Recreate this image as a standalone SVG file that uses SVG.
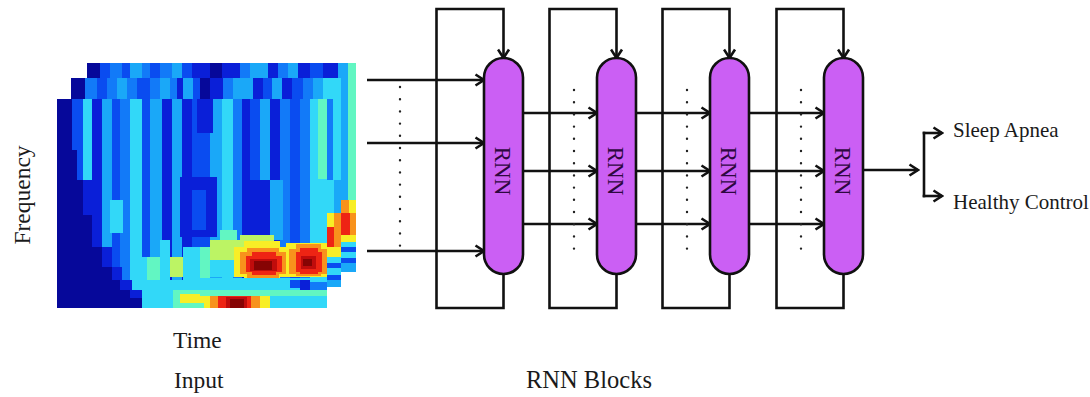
<svg xmlns="http://www.w3.org/2000/svg" width="1090" height="397" viewBox="0 0 1090 397">
<style>
.c0{fill:#06089a}.c1{fill:#0a1fd8}.c2{fill:#0a4cf0}.c3{fill:#127af8}.c4{fill:#1aa8f8}.c5{fill:#32d8f8}.c6{fill:#62f6c2}.c7{fill:#bcf464}.c8{fill:#f8ee26}.c9{fill:#f8921c}.c10{fill:#ee2414}.c11{fill:#c00c0c}.c12{fill:#860404}
.ln{fill:none;stroke:#111;stroke-width:2.6}
.arr{marker-end:url(#ah)}
.dots{fill:none;stroke:#222;stroke-width:2.4;stroke-linecap:round;stroke-dasharray:0 12.2}
.node rect{fill:#cb5ff4;stroke:#111;stroke-width:2.6}
.nt{font-family:"Liberation Serif","Times New Roman",serif;font-size:23px;fill:#2e0840}
.lbl{font-family:"Liberation Serif","Times New Roman",serif;font-size:23.5px;fill:#1a1a1a}
.lbb{font-family:"Liberation Serif","Times New Roman",serif;font-size:24.5px;fill:#1a1a1a}
.lbs{font-family:"Liberation Serif","Times New Roman",serif;font-size:21px;fill:#1a1a1a}
</style>
<defs>
<marker id="ah" viewBox="0 0 12 14" refX="10" refY="7" markerWidth="12" markerHeight="14" markerUnits="userSpaceOnUse" orient="auto">
<path d="M1.5,1.5 L10,7 L1.5,12.5" fill="none" stroke="#111" stroke-width="2.6"/>
</marker>
</defs>
<rect width="1090" height="397" fill="#fff"/>

<g id="spectrogram" shape-rendering="crispEdges">
<!-- back layer -->
<rect class="c3" x="87" y="63" width="269" height="209"/>
<rect class="c0" x="87" y="63" width="13" height="15"/>
<rect class="c2" x="100" y="63" width="10" height="15"/>
<rect class="c3" x="110" y="63" width="12" height="15"/>
<rect class="c2" x="122" y="63" width="8" height="15"/>
<rect class="c4" x="130" y="63" width="12" height="15"/>
<rect class="c3" x="142" y="63" width="8" height="15"/>
<rect class="c2" x="150" y="63" width="10" height="15"/>
<rect class="c3" x="160" y="63" width="12" height="15"/>
<rect class="c4" x="172" y="63" width="10" height="15"/>
<rect class="c2" x="182" y="63" width="10" height="15"/>
<rect class="c1" x="192" y="63" width="18" height="15"/>
<rect class="c0" x="210" y="63" width="12" height="15"/>
<rect class="c1" x="222" y="63" width="18" height="15"/>
<rect class="c3" x="240" y="63" width="10" height="15"/>
<rect class="c4" x="250" y="63" width="18" height="15"/>
<rect class="c1" x="268" y="63" width="10" height="15"/>
<rect class="c3" x="278" y="63" width="10" height="15"/>
<rect class="c4" x="288" y="63" width="10" height="15"/>
<rect class="c1" x="298" y="63" width="12" height="15"/>
<rect class="c2" x="310" y="63" width="13" height="15"/>
<rect class="c1" x="323" y="63" width="15" height="15"/>
<rect class="c4" x="338" y="63" width="10" height="137"/>
<rect class="c6" x="348" y="63" width="8" height="137"/>
<rect class="c9" x="341" y="200" width="8" height="13"/>
<rect class="c8" x="349" y="200" width="7" height="13"/>
<rect class="c10" x="341" y="213" width="9" height="22"/>
<rect class="c9" x="350" y="213" width="6" height="22"/>
<rect class="c8" x="341" y="235" width="15" height="7"/>
<rect class="c5" x="341" y="242" width="15" height="5"/>
<rect class="c2" x="341" y="247" width="15" height="5"/>
<rect class="c5" x="341" y="252" width="15" height="6"/>
<rect class="c2" x="341" y="258" width="15" height="5"/>
<rect class="c4" x="341" y="263" width="15" height="9"/>
<!-- middle layer -->
<rect class="c3" x="71" y="78" width="270" height="209"/>
<rect class="c0" x="71" y="78" width="14" height="21"/>
<rect class="c3" x="85" y="78" width="12" height="21"/>
<rect class="c2" x="97" y="78" width="10" height="21"/>
<rect class="c3" x="107" y="78" width="10" height="21"/>
<rect class="c4" x="117" y="78" width="10" height="21"/>
<rect class="c3" x="127" y="78" width="10" height="21"/>
<rect class="c2" x="137" y="78" width="13" height="21"/>
<rect class="c3" x="150" y="78" width="10" height="21"/>
<rect class="c4" x="160" y="78" width="10" height="21"/>
<rect class="c3" x="170" y="78" width="7" height="21"/>
<rect class="c1" x="177" y="78" width="6" height="21"/>
<rect class="c4" x="183" y="78" width="10" height="21"/>
<rect class="c2" x="193" y="78" width="7" height="21"/>
<rect class="c0" x="200" y="78" width="10" height="21"/>
<rect class="c1" x="210" y="78" width="13" height="21"/>
<rect class="c3" x="223" y="78" width="10" height="21"/>
<rect class="c4" x="233" y="78" width="20" height="21"/>
<rect class="c1" x="253" y="78" width="10" height="21"/>
<rect class="c2" x="263" y="78" width="9" height="21"/>
<rect class="c4" x="272" y="78" width="10" height="21"/>
<rect class="c1" x="282" y="78" width="10" height="21"/>
<rect class="c2" x="292" y="78" width="11" height="21"/>
<rect class="c3" x="303" y="78" width="10" height="21"/>
<rect class="c4" x="313" y="78" width="10" height="21"/>
<rect class="c5" x="323" y="78" width="18" height="21"/>
<rect class="c3" x="327" y="99" width="6" height="81"/>
<rect class="c5" x="333" y="99" width="8" height="81"/>
<rect class="c5" x="327" y="180" width="7" height="33"/>
<rect class="c4" x="334" y="180" width="7" height="33"/>
<rect class="c8" x="327" y="213" width="7" height="14"/>
<rect class="c9" x="334" y="213" width="7" height="14"/>
<rect class="c10" x="327" y="227" width="7" height="20"/>
<rect class="c9" x="334" y="227" width="7" height="20"/>
<rect class="c8" x="327" y="247" width="14" height="10"/>
<rect class="c5" x="327" y="257" width="14" height="6"/>
<rect class="c2" x="327" y="263" width="14" height="5"/>
<rect class="c5" x="327" y="268" width="14" height="7"/>
<rect class="c2" x="327" y="275" width="14" height="5"/>
<rect class="c4" x="327" y="280" width="14" height="7"/>
<!-- front layer -->
<rect class="c3" x="57" y="99" width="270" height="209"/>
<rect class="c0" x="57" y="99" width="15" height="209"/>
<rect class="c2" x="72" y="99" width="11" height="209"/>
<rect class="c5" x="83" y="99" width="9" height="209"/>
<rect class="c1" x="92" y="99" width="10" height="209"/>
<rect class="c4" x="102" y="99" width="10" height="209"/>
<rect class="c2" x="112" y="99" width="8" height="209"/>
<rect class="c3" x="120" y="99" width="10" height="209"/>
<rect class="c5" x="130" y="99" width="12" height="209"/>
<rect class="c2" x="142" y="99" width="8" height="209"/>
<rect class="c4" x="150" y="99" width="12" height="209"/>
<rect class="c1" x="162" y="99" width="10" height="209"/>
<rect class="c4" x="172" y="99" width="10" height="209"/>
<rect class="c1" x="182" y="99" width="10" height="209"/>
<rect class="c2" x="192" y="99" width="8" height="209"/>
<rect class="c2" x="200" y="99" width="10" height="209"/>
<rect class="c4" x="210" y="99" width="12" height="209"/>
<rect class="c5" x="222" y="99" width="11" height="209"/>
<rect class="c3" x="233" y="99" width="9" height="209"/>
<rect class="c1" x="242" y="99" width="8" height="209"/>
<rect class="c2" x="250" y="99" width="10" height="209"/>
<rect class="c4" x="260" y="99" width="10" height="209"/>
<rect class="c1" x="270" y="99" width="10" height="209"/>
<rect class="c3" x="280" y="99" width="10" height="209"/>
<rect class="c2" x="290" y="99" width="10" height="209"/>
<rect class="c3" x="300" y="99" width="10" height="209"/>
<rect class="c5" x="310" y="99" width="8" height="209"/>
<rect class="c5" x="318" y="99" width="9" height="209"/>
<rect class="c6" x="318" y="99" width="9" height="80"/>
<rect class="c1" x="197" y="99" width="16" height="34"/>
<rect class="c1" x="180" y="177" width="37" height="60"/>
<rect class="c2" x="192" y="190" width="14" height="40"/>
<rect class="c1" x="250" y="180" width="20" height="57"/>
<rect class="c4" x="270" y="180" width="13" height="60"/>
<rect class="c5" x="110" y="200" width="13" height="33"/>
<polygon class="c1" points="57,180 92,180 92,215 102,215 102,247 112,247 112,267 122,267 122,280 132,280 132,290 142,290 142,298 160,298 160,308 57,308"/>
<polygon class="c0" points="57,99 72,99 72,150 77,150 77,180 83,180 83,215 92,215 92,247 102,247 102,267 112,267 112,280 120,280 120,290 130,290 130,298 142,298 142,308 57,308"/>
<rect class="c5" x="130" y="257" width="17" height="23"/>
<rect class="c6" x="147" y="257" width="13" height="23"/>
<rect class="c5" x="160" y="240" width="10" height="40"/>
<rect class="c7" x="170" y="257" width="13" height="20"/>
<rect class="c5" x="183" y="247" width="17" height="33"/>
<rect class="c5" x="132" y="280" width="78" height="10"/>
<rect class="c5" x="142" y="290" width="31" height="18"/>
<rect class="c6" x="173" y="290" width="37" height="18"/>
<rect class="c8" x="180" y="294" width="25" height="9"/>
<rect class="c6" x="200" y="247" width="10" height="33"/>
<rect class="c6" x="220" y="230" width="17" height="17"/>
<rect class="c7" x="210" y="240" width="30" height="20"/>
<rect class="c5" x="210" y="260" width="30" height="17"/>
<rect class="c7" x="240" y="235" width="34" height="12"/>
<!-- hot spot 1 -->
<rect class="c8" x="234" y="247" width="56" height="30"/>
<rect class="c8" x="244" y="241" width="36" height="38"/>
<rect class="c9" x="240" y="252" width="46" height="22"/>
<rect class="c9" x="247" y="248" width="32" height="30"/>
<rect class="c10" x="246" y="256" width="36" height="16"/>
<rect class="c10" x="252" y="252" width="24" height="23"/>
<rect class="c11" x="250" y="259" width="27" height="12"/>
<rect class="c12" x="254" y="261" width="18" height="9"/>
<!-- hot spot 2 -->
<rect class="c8" x="286" y="243" width="41" height="34"/>
<rect class="c9" x="289" y="249" width="38" height="25"/>
<rect class="c9" x="296" y="244" width="25" height="32"/>
<rect class="c10" x="296" y="252" width="26" height="20"/>
<rect class="c10" x="300" y="248" width="18" height="26"/>
<rect class="c11" x="301" y="256" width="15" height="13"/>
<rect class="c12" x="303" y="259" width="9" height="7"/>
<rect class="c5" x="200" y="278" width="127" height="12"/>
<rect class="c2" x="290" y="280" width="10" height="8"/>
<rect class="c1" x="300" y="280" width="10" height="10"/>
<rect class="c3" x="310" y="282" width="17" height="8"/>
<rect class="c6" x="200" y="290" width="127" height="6"/>
<!-- bottom row hot -->
<rect class="c8" x="204" y="296" width="66" height="12"/>
<rect class="c9" x="210" y="296" width="50" height="12"/>
<rect class="c10" x="218" y="296" width="33" height="12"/>
<rect class="c11" x="226" y="297" width="21" height="11"/>
<rect class="c12" x="230" y="299" width="14" height="9"/>
<rect class="c5" x="270" y="296" width="57" height="12"/>
</g>

<g id="connectors">
<path class="ln arr" d="M503.5,274 V308 H436.5 V9 H503.5 V58"/>
<path class="ln arr" d="M616.5,274 V308 H549.5 V9 H616.5 V58"/>
<path class="ln arr" d="M729.5,274 V308 H662.5 V9 H729.5 V58"/>
<path class="ln arr" d="M843.5,274 V308 H776.5 V9 H843.5 V58"/>
<path class="ln arr" d="M367,80 H484"/>
<path class="ln arr" d="M367,143 H484"/>
<path class="ln arr" d="M367,251 H484"/>
<path class="ln arr" d="M523,113 H597"/>
<path class="ln arr" d="M523,171 H597"/>
<path class="ln arr" d="M523,224 H597"/>
<path class="ln arr" d="M636,113 H710"/>
<path class="ln arr" d="M636,171 H710"/>
<path class="ln arr" d="M636,224 H710"/>
<path class="ln arr" d="M749,113 H824"/>
<path class="ln arr" d="M749,171 H824"/>
<path class="ln arr" d="M749,224 H824"/>
<path class="ln arr" d="M863,170 H918"/>
<path class="ln" d="M924,131.7 V197.3"/>
<path class="ln arr" d="M922.7,133 H942"/>
<path class="ln arr" d="M922.7,196 H942"/>
<path class="dots" d="M400,87 V246"/>
<path class="dots" d="M574,90 V249"/>
<path class="dots" d="M687,90 V249"/>
<path class="dots" d="M801,90 V249"/>
</g>

<g id="node-rnn1" class="node"><rect x="484" y="58" width="39" height="216" rx="19.5"/><text class="nt" transform="translate(503.5,171) rotate(90)" text-anchor="middle" dy="0.35em">RNN</text></g>
<g id="node-rnn2" class="node"><rect x="597" y="58" width="39" height="216" rx="19.5"/><text class="nt" transform="translate(616.5,171) rotate(90)" text-anchor="middle" dy="0.35em">RNN</text></g>
<g id="node-rnn3" class="node"><rect x="710" y="58" width="39" height="216" rx="19.5"/><text class="nt" transform="translate(729.5,171) rotate(90)" text-anchor="middle" dy="0.35em">RNN</text></g>
<g id="node-rnn4" class="node"><rect x="824" y="58" width="39" height="216" rx="19.5"/><text class="nt" transform="translate(843.5,171) rotate(90)" text-anchor="middle" dy="0.35em">RNN</text></g>

<g id="labels">
<text class="lbl" transform="translate(30,195) rotate(-90)" text-anchor="middle">Frequency</text>
<text class="lbl" x="173" y="348">Time</text>
<text class="lbl" x="174" y="388">Input</text>
<text class="lbb" x="526" y="388">RNN Blocks</text>
<text class="lbs" x="953" y="137">Sleep Apnea</text>
<text class="lbs" x="953" y="209">Healthy Control</text>
</g>
</svg>
